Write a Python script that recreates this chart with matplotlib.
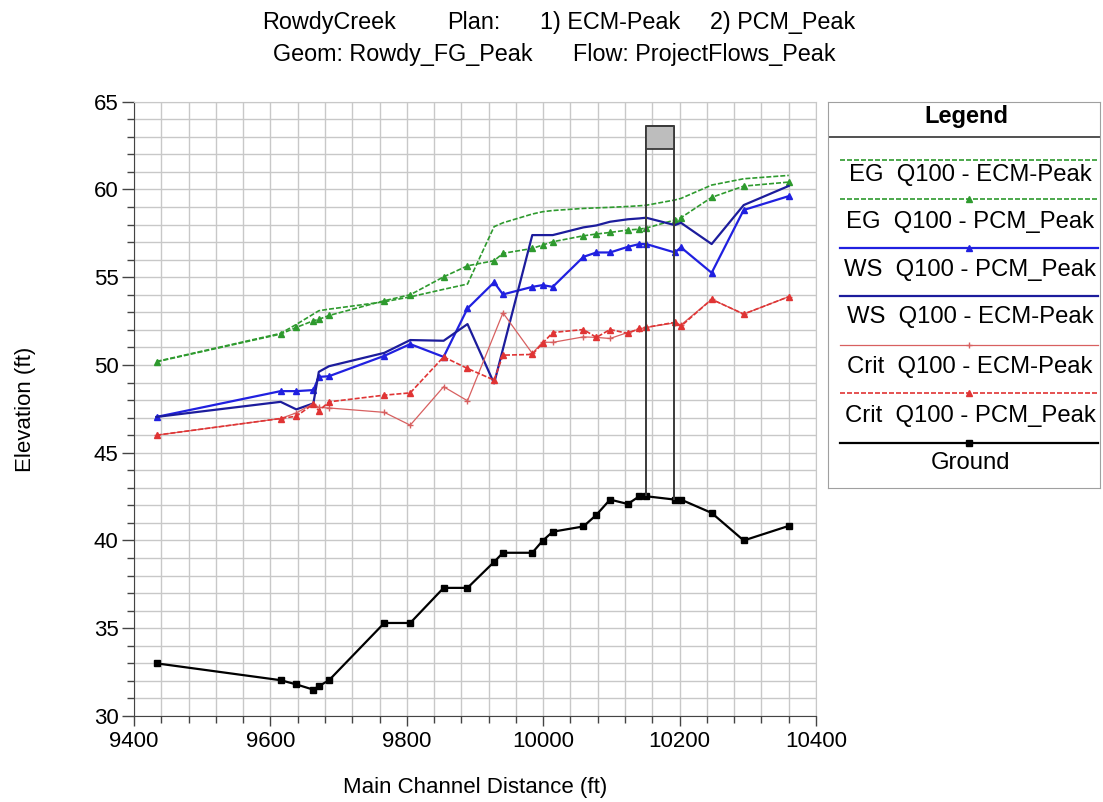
import matplotlib
matplotlib.use("Agg")
import matplotlib.pyplot as plt
from matplotlib.patches import Rectangle
from matplotlib.ticker import MultipleLocator

plt.rcParams['font.family'] = ['Liberation Sans', 'DejaVu Sans']

# ---------------- data ----------------
stations = [9433, 9615, 9638, 9663, 9671, 9686, 9767, 9805, 9854, 9889, 9928, 9941,
            9984, 9999, 10014, 10059, 10078, 10098, 10124, 10141, 10151, 10193,
            10202, 10247, 10294, 10360]

ground = [33.0, 32.04, 31.8, 31.5, 31.7, 32.04, 35.3, 35.3, 37.3, 37.3, 38.78, 39.3,
          39.3, 39.98, 40.5, 40.8, 41.46, 42.33, 42.08, 42.52, 42.52, 42.33,
          42.33, 41.57, 40.0, 40.83]

eg_ecm = [50.2, 51.8, 52.31, 52.9, 53.09, 53.18, 53.6, 53.88, 54.31, 54.61, 57.88, 58.1,
          58.6, 58.73, 58.8, 58.92, 58.95, 58.98, 59.03, 59.07, 59.1, 59.4,
          59.49, 60.25, 60.61, 60.8]

eg_pcm = [50.18, 51.76, 52.14, 52.52, 52.6, 52.82, 53.66, 54.0, 55.02, 55.65, 55.94, 56.36,
          56.64, 56.83, 57.02, 57.36, 57.46, 57.55, 57.69, 57.74, 57.8, 58.26,
          58.39, 59.55, 60.19, 60.42]

ws_pcm = [47.04, 48.51, 48.51, 48.57, 49.32, 49.36, 50.52, 51.19, 50.46, 53.22, 54.71, 54.02,
          54.45, 54.55, 54.45, 56.16, 56.41, 56.41, 56.73, 56.89, 56.89, 56.41,
          56.7, 55.25, 58.83, 59.62]

ws_ecm_st = [9433, 9615, 9638, 9663, 9671, 9686, 9767, 9805, 9854, 9889, 9928,
             9984, 9999, 10014, 10059, 10078, 10098, 10124, 10141, 10151, 10193,
             10202, 10247, 10294, 10360]
ws_ecm = [47.04, 47.9, 47.47, 47.81, 49.61, 49.93, 50.69, 51.42, 51.38, 52.33, 48.95,
          57.4, 57.4, 57.4, 57.84, 57.95, 58.16, 58.3, 58.35, 58.39, 57.97,
          58.1, 56.89, 59.11, 60.2]

crit_pcm = [46.0, 46.95, 47.08, 47.77, 47.39, 47.9, 48.28, 48.41, 50.46, 49.8, 49.14, 50.56,
            50.6, 51.23, 51.85, 52.02, 51.57, 52.02, 51.8, 52.08, 52.14, 52.43,
            52.21, 53.74, 52.9, 53.89]

crit_ecm_st = [9433, 9615, 9638, 9663, 9671, 9686, 9767, 9805, 9854, 9889, 9941,
               9984, 9999, 10014, 10059, 10078, 10098, 10124, 10141, 10151, 10193,
               10202, 10247, 10294, 10360]
crit_ecm = [46.0, 46.95, 47.27, 47.8, 47.58, 47.55, 47.3, 46.57, 48.76, 47.96, 52.97,
            50.66, 51.3, 51.29, 51.6, 51.57, 51.51, 51.85, 52.05, 52.14, 52.4,
            52.28, 53.74, 52.9, 53.89]

bridge_x = [10151, 10192]
bridge_low = [42.52, 42.33]
deck_bottom = 62.3
deck_top = 63.6

legend_labels = ["EG  Q100 - ECM-Peak", "EG  Q100 - PCM_Peak", "WS  Q100 - PCM_Peak",
                 "WS  Q100 - ECM-Peak", "Crit  Q100 - ECM-Peak", "Crit  Q100 - PCM_Peak",
                 "Ground"]

# ---------------- styles ----------------
GREEN = '#2e9a2e'
BLUE = '#2020e0'
NAVY = '#1c1c9c'
RED = '#e03434'
SALMON = '#d86060'
styles = [
    dict(color=GREEN, ls=(0, (3, 1.2)), lw=1.2, marker=None),
    dict(color=GREEN, ls=(0, (3, 1.2)), lw=1.2, marker='^', ms=5),
    dict(color=BLUE, ls='-', lw=1.6, marker='^', ms=5),
    dict(color=NAVY, ls='-', lw=1.6, marker=None),
    dict(color=SALMON, ls='-', lw=0.9, marker='+', ms=5),
    dict(color=RED, ls=(0, (3, 1.2)), lw=1.2, marker='^', ms=5),
    dict(color='black', ls='-', lw=1.6, marker='s', ms=5),
]

fig = plt.figure(figsize=(11.03, 8.02), dpi=100)
ax = fig.add_axes([134 / 1103, 1 - 716 / 802, 682 / 1103, (716 - 101.7) / 802])

series = [(stations, eg_ecm), (stations, eg_pcm), (stations, ws_pcm), (ws_ecm_st, ws_ecm),
          (crit_ecm_st, crit_ecm), (stations, crit_pcm), (stations, ground)]

# bridge
ax.vlines(bridge_x, bridge_low, deck_top, color='#3a3a3a', lw=1.4, zorder=4)
ax.add_patch(Rectangle((bridge_x[0], deck_bottom), bridge_x[1] - bridge_x[0],
                       deck_top - deck_bottom, facecolor='#bdbdbd', edgecolor='#3a3a3a',
                       lw=1.3, zorder=4))
ax.hlines(deck_top, bridge_x[0], bridge_x[1], color='#3a3a3a', lw=1.4, zorder=5)

for (xs, ys), st in zip(series, styles):
    ax.plot(xs, ys, color=st['color'], ls=st['ls'], lw=st['lw'], marker=st['marker'],
            ms=st.get('ms', 0), mew=1.0, zorder=3)

ax.set_xlim(9400, 10400)
ax.set_ylim(30, 65)
ax.xaxis.set_major_locator(MultipleLocator(200))
ax.xaxis.set_minor_locator(MultipleLocator(40))
ax.yaxis.set_major_locator(MultipleLocator(5))
ax.yaxis.set_minor_locator(MultipleLocator(1))
ax.grid(True, which='both', color='#c8c8c8', lw=1.0, zorder=0)
ax.set_axisbelow(True)
ax.tick_params(which='major', direction='out', length=9, width=1, labelsize=16,
               color='#444444', pad=2)
ax.tick_params(which='minor', direction='out', length=5, width=1, color='#444444')
ax.tick_params(axis='x', which='major', length=7, pad=4)
for s in ['top', 'right']:
    ax.spines[s].set_color('#c8c8c8')
for s in ['left', 'bottom']:
    ax.spines[s].set_color('#444444')

fig.text(25 / 1103, 1 - 409 / 802, "Elevation (ft)", rotation=90, ha='center',
         va='center', fontsize=16)
fig.text(475 / 1103, 1 - 788 / 802, "Main Channel Distance (ft)", ha='center',
         va='center', fontsize=16)

# title
t1 = [("RowdyCreek", 262), ("Plan:", 447), ("1) ECM-Peak", 540), ("2) PCM_Peak", 710)]
t2 = [("Geom: Rowdy_FG_Peak", 273), ("Flow: ProjectFlows_Peak", 573)]
for txt, x in t1:
    fig.text(x / 1103, 1 - 22.7 / 802, txt, ha='left', va='center', fontsize=16.8)
for txt, x in t2:
    fig.text(x / 1103, 1 - 55 / 802, txt, ha='left', va='center', fontsize=16.8)

# legend panel
lax = fig.add_axes([828 / 1103, 1 - 488 / 802, 272 / 1103, (488 - 101.7) / 802])
lax.set_xlim(0, 272)
lax.set_ylim(386.3, 0)
lax.set_xticks([])
lax.set_yticks([])
for s in lax.spines.values():
    s.set_color('#a0a0a0')
lax.text(138, 15, "Legend", ha='center', va='center', fontsize=17, fontweight='bold')
lax.plot([0, 272], [35, 35], color='#333333', lw=1.2)
line_y = [58.3, 97.3, 146, 194.3, 243.3, 291.6, 341]
label_y = [73.3, 120, 168.3, 215, 265, 314, 361.6]
for lab, ly, ty, st in zip(legend_labels, line_y, label_y, styles):
    lax.plot([12, 270], [ly, ly], color=st['color'], ls=st['ls'], lw=st['lw'])
    if st['marker']:
        lax.plot([141], [ly], color=st['color'], marker=st['marker'],
                 ms=st['ms'] - 1, ls='none')
    lax.text(142, ty, lab, ha='center', va='center', fontsize=17.2)

fig.savefig("out.png", dpi=100)
